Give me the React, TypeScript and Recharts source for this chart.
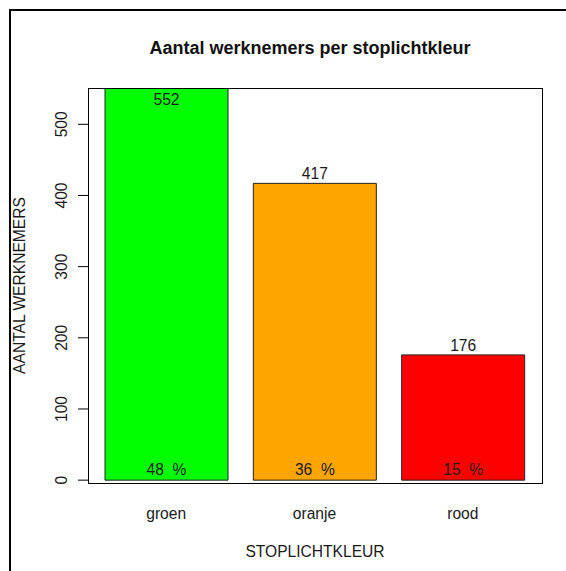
import React from 'react';
import {
  BarChart,
  Bar,
  Cell,
  XAxis,
  YAxis,
  LabelList,
  Label,
} from 'recharts';

const categories = ['groen', 'oranje', 'rood'];
const counts = [552, 417, 176];
const percentLabels = ['48  %', '36  %', '15  %'];
const barColors = ['#00FF00', '#FFA500', '#FF0000'];
const yTicks = [0, 100, 200, 300, 400, 500];
const yDomain = [-4, 551];

const data = categories.map((name, i) => ({
  name,
  count: counts[i],
  pct: percentLabels[i],
}));

const FONT = '"Liberation Sans", Arial, sans-serif';
const TEXT = '#1a1a1a';
const FS = 15.6;
// plot region (R's box around the bars)
const PLOT = { left: 88, top: 88, right: 24, bottom: 88 };

const YTick = (props: any) => {
  const { x, y, payload } = props;
  const tx = x - 9;
  return (
    <text
      x={tx}
      y={y}
      transform={`rotate(-90, ${tx}, ${y})`}
      textAnchor="middle"
      fontSize={FS}
      fontFamily={FONT}
      fill={TEXT}
    >
      {payload.value}
    </text>
  );
};

const XTick = (props: any) => {
  const { x, y, payload } = props;
  return (
    <text x={x} y={y + 36} textAnchor="middle" fontSize={FS} fontFamily={FONT} fill={TEXT}>
      {payload.value}
    </text>
  );
};

const CountLabel = (props: any) => {
  const { x, y, width, value } = props;
  const by = Math.max(y - 4, PLOT.top + 17);
  return (
    <text x={x + width / 2} y={by} textAnchor="middle" fontSize={FS} fontFamily={FONT} fill={TEXT}>
      {value}
    </text>
  );
};

const PctLabel = (props: any) => {
  const { x, y, width, height, value } = props;
  return (
    <text
      x={x + width / 2}
      y={y + height - 5}
      textAnchor="middle"
      fontSize={FS}
      fontFamily={FONT}
      fill={TEXT}
      style={{ whiteSpace: 'pre' }}
    >
      {value}
    </text>
  );
};

export default function App() {
  const W = 566;
  const H = 571;
  return (
    <div
      style={{
        position: 'absolute',
        left: 0,
        top: 0,
        width: W,
        height: H,
        overflow: 'hidden',
        background: '#fff',
      }}
    >
      {/* outer frame, only left and top edges are in view */}
      <div
        style={{
          position: 'absolute',
          left: 9,
          top: 9,
          width: 600,
          height: 600,
          borderLeft: '2px solid #000',
          borderTop: '2px solid #000',
        }}
      />
      <div
        style={{
          position: 'absolute',
          left: 83,
          width: 454,
          top: 39,
          textAlign: 'center',
          fontFamily: FONT,
          fontWeight: 'bold',
          fontSize: 18,
          lineHeight: '18px',
          color: '#111',
        }}
      >
        Aantal werknemers per stoplichtkleur
      </div>
      <div style={{ position: 'absolute', left: 0, top: 0 }}>
        <BarChart
          width={W}
          height={H}
          data={data}
          margin={{ top: PLOT.top, right: PLOT.right, bottom: PLOT.bottom - 40, left: PLOT.left - 50 }}
        >
          <XAxis
            dataKey="name"
            height={40}
            axisLine={false}
            tickLine={false}
            tickSize={0}
            tickMargin={0}
            padding={{ left: 4, right: 5 }}
            tick={<XTick />}
            interval={0}
          >
            <Label
              content={(p: any) => {
                const vb = p.viewBox;
                return (
                  <text
                    x={vb.x + vb.width / 2}
                    y={vb.y + 74}
                    textAnchor="middle"
                    fontSize={FS}
                    fontFamily={FONT}
                    fill={TEXT}
                  >
                    STOPLICHTKLEUR
                  </text>
                );
              }}
            />
          </XAxis>
          <YAxis
            width={50}
            domain={yDomain}
            allowDataOverflow
            ticks={yTicks}
            interval={0}
            axisLine={false}
            tickLine={{ stroke: '#000', strokeWidth: 1 }}
            tickSize={10}
            tickMargin={2}
            tick={<YTick />}
          >
            <Label
              content={(p: any) => {
                const vb = p.viewBox;
                const lx = vb.x - 13;
                const ly = vb.y + vb.height / 2;
                return (
                  <text
                    x={lx}
                    y={ly}
                    transform={`rotate(-90, ${lx}, ${ly})`}
                    textAnchor="middle"
                    fontSize={FS}
                    fontFamily={FONT}
                    fill={TEXT}
                  >
                    AANTAL WERKNEMERS
                  </text>
                );
              }}
            />
          </YAxis>
          <Bar
            dataKey="count"
            barSize={123}
            stroke="#222"
            strokeWidth={1}
            isAnimationActive={false}
          >
            {data.map((d, i) => (
              <Cell key={d.name} fill={barColors[i]} />
            ))}
            <LabelList dataKey="count" content={<CountLabel />} />
            <LabelList dataKey="pct" content={<PctLabel />} />
          </Bar>
        </BarChart>
      </div>
      {/* box around the plot region */}
      <div
        style={{
          position: 'absolute',
          left: PLOT.left,
          top: PLOT.top,
          width: W - PLOT.left - PLOT.right + 1,
          height: H - PLOT.top - PLOT.bottom + 1,
          border: '1px solid #000',
          boxSizing: 'border-box',
          pointerEvents: 'none',
        }}
      />
    </div>
  );
}
